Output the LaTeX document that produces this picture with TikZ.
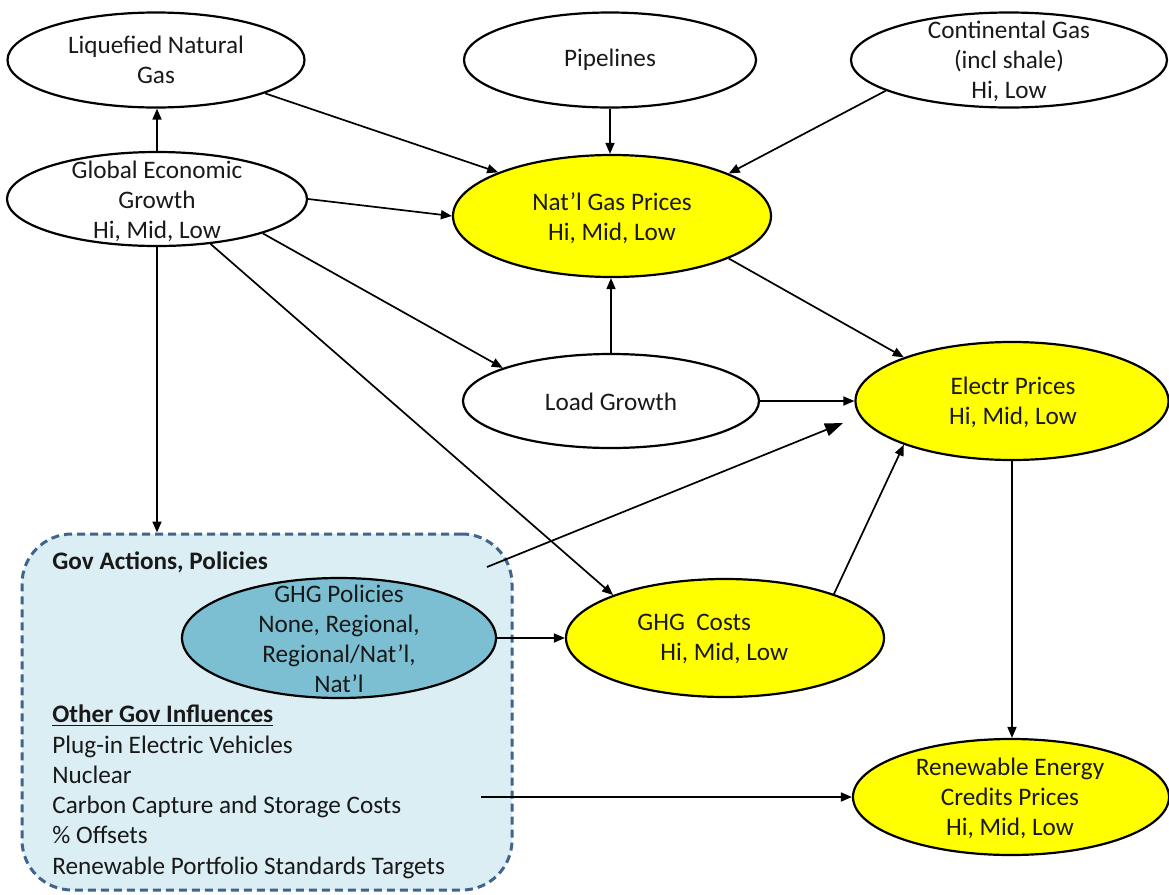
\documentclass[tikz,border=0pt]{standalone}
\usepackage{fontspec}
\setmainfont{Carlito}
\usetikzlibrary{shapes.geometric,arrows.meta}
\definecolor{yel}{RGB}{255,255,0}
\definecolor{govfill}{RGB}{219,238,244}
\definecolor{govline}{RGB}{65,100,140}
\definecolor{polfill}{RGB}{124,190,210}
\begin{document}
\begin{tikzpicture}[x=0.5pt,y=-0.5pt,
  ell/.style={ellipse,draw=black,line width=1.1pt,inner sep=0pt},
  txt/.style={font=\fontsize{12.6}{15}\selectfont,align=center,inner sep=0pt,text=black!90},
  conn/.style={line width=0.85pt,-{Triangle[length=5.5pt,width=4.5pt]}},
  bigconn/.style={line width=0.85pt,-{Triangle[length=9pt,width=6.5pt]}}
]
\useasboundingbox (0,0) rectangle (1169,895);

% government box
\node[draw=govline, fill=govfill, dash pattern=on 4pt off 2.5pt, line width=1.5pt,
      rounded corners=25pt, minimum width=245pt, minimum height=178pt, inner sep=0pt] (gov) at (267,712) {};

% ellipses
\node[ell, minimum width=148.5pt, minimum height=47.5pt] (lng) at (156,60) {};
\node[ell, minimum width=146pt, minimum height=47.5pt] (pipe) at (610,60) {};
\node[ell, minimum width=158pt, minimum height=47.5pt] (cont) at (1009,60) {};
\node[ell, minimum width=150pt, minimum height=47pt] (geg) at (157,199) {};
\node[ell, fill=yel, minimum width=159pt, minimum height=61pt] (ngp) at (612,216) {};
\node[ell, minimum width=148pt, minimum height=47pt] (load) at (611,401) {};
\node[ell, fill=yel, minimum width=156.5pt, minimum height=59pt] (elec) at (1012,401) {};
\node[ell, fill=polfill, minimum width=157pt, minimum height=60pt] (ghgp) at (339,638) {};
\node[ell, fill=yel, minimum width=159pt, minimum height=59pt] (ghgc) at (725,638) {};
\node[ell, fill=yel, minimum width=158pt, minimum height=58pt] (rec) at (1011,797) {};

% texts
\node[txt] (lngT) at (156,60) {Liquefied Natural\\Gas};
\node[txt] (pipeT) at (610,60) {Pipelines};
\node[txt] (contT) at (1009,61) {Continental Gas\\(incl shale)\\Hi, Low};
\node[txt] (gegT) at (157,201) {Global Economic\\Growth\\Hi, Mid, Low};
\node[txt] (ngpT) at (612,218) {Nat’l Gas Prices\\Hi, Mid, Low};
\node[txt] (loadT) at (611,402) {Load Growth};
\node[txt] (elecT) at (1013,402) {Electr Prices\\Hi, Mid, Low};
\node[txt] (ghgpT) at (339,639) {GHG Policies\\None, Regional,\\Regional/Nat’l,\\Nat’l};
\node[txt, align=left, anchor=west] (ghgcT) at (637,639) {GHG\ \ Costs\\\hspace*{11.5pt}Hi, Mid, Low};
\node[txt] (recT) at (1010,798) {Renewable Energy\\Credits Prices\\Hi, Mid, Low};

\node[txt, anchor=base west, font=\fontsize{12.6}{15}\selectfont\bfseries] (govT) at (52,569) {Gov Actions, Policies};
\node[txt, anchor=base west, font=\fontsize{12.6}{15}\selectfont\bfseries] (othT) at (52,722) {\underline{Other Gov Influences}};
\node[txt, anchor=base west] (o1) at (52,753) {Plug-in Electric Vehicles};
\node[txt, anchor=base west] (o2) at (52,783) {Nuclear};
\node[txt, anchor=base west] (o3) at (52,813) {Carbon Capture and Storage Costs};
\node[txt, anchor=base west] (o4) at (52,843) {\% Offsets};
\node[txt, anchor=base west] (o5) at (52,874) {Renewable Portfolio Standards Targets};

% free ends
\coordinate (govA) at (487,567);
\coordinate (govB) at (481,797);
\coordinate (elecTip) at (843,423);

% connectors
\draw[conn] (geg.north) -- (geg.north |- lng.south);
\draw[conn] (lng.-17) -- (ngp.159);
\draw[conn] (pipe.south) -- (pipe.south |- ngp.north);
\draw[conn] (cont.194) -- (ngp.20);
\draw[conn] (geg.east) -- (ngp.west);
\draw[conn] (geg.-18) -- (load.163);
\draw[conn] (geg.-40) -- (ghgc.159);
\draw[conn] (geg.south) -- (geg.south |- gov.north);
\draw[conn] (load.north) -- (load.north |- ngp.south);
\draw[conn] (ngp.-20) -- (elec.158);
\draw[conn] (load.east) -- (elec.west);
\draw[bigconn] (govA) -- (elecTip);
\draw[conn] (ghgp.east) -- (ghgc.west);
\draw[conn] (ghgc.22) -- (elec.202);
\draw[conn] (elec.south) -- (elec.south |- rec.north);
\draw[conn] (govB) -- (rec.west);
\end{tikzpicture}
\end{document}
